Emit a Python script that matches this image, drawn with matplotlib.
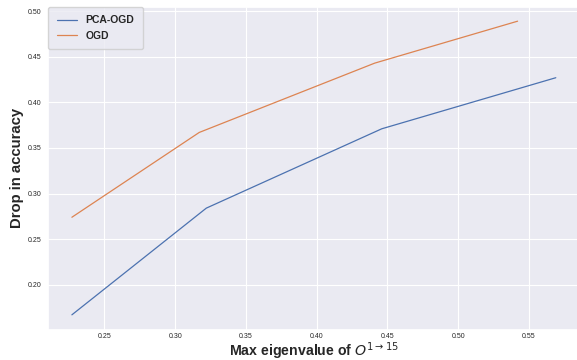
import matplotlib
matplotlib.use("Agg")
import matplotlib.pyplot as plt
import seaborn as sns

# max eigenvalue vs. accuracy drop for each method
pca_ogd_eig = [0.227, 0.322, 0.446, 0.569]
pca_ogd_drop = [0.167, 0.284, 0.371, 0.427]
ogd_eig = [0.227, 0.317, 0.441, 0.542]
ogd_drop = [0.274, 0.367, 0.443, 0.489]

sns.set_theme(style="darkgrid")
plt.rcParams['font.family'] = ['Liberation Sans', 'DejaVu Sans']
plt.rcParams['grid.linewidth'] = 0.8

fig = plt.figure(figsize=(5.77, 3.6), dpi=100)
ax = fig.add_axes([47.7 / 577, 30.5 / 360, (580 - 47.7) / 577, (329.5 - 6.5) / 360])

palette = sns.color_palette("deep")
ax.plot(pca_ogd_eig, pca_ogd_drop, color=palette[0], linewidth=0.9, label='PCA-OGD')
ax.plot(ogd_eig, ogd_drop, color=palette[1], linewidth=0.9, label='OGD')

ax.set_xticks([0.25, 0.30, 0.35, 0.40, 0.45, 0.50, 0.55])
ax.set_yticks([0.20, 0.25, 0.30, 0.35, 0.40, 0.45, 0.50])
ax.tick_params(axis='x', labelsize=5, length=0, pad=2.5)
ax.tick_params(axis='y', labelsize=5, length=0, pad=4.3)

ax.set_xlabel(r'Max eigenvalue of $O^{1 \rightarrow 15}$', fontsize=10.2,
              fontweight='bold', labelpad=0)
ax.set_ylabel('Drop in accuracy', fontsize=10.7, fontweight='bold', labelpad=3)

ax.legend(loc='upper left', borderaxespad=0, borderpad=0.85, handlelength=2.0,
          prop={'weight': 'bold', 'size': 7.5})

fig.savefig('out.png', dpi=100)
